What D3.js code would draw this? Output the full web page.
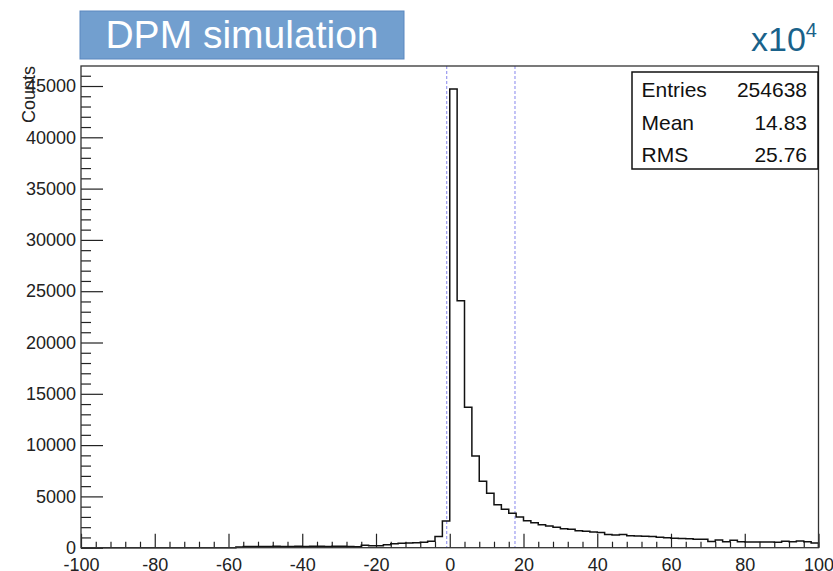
<!DOCTYPE html>
<html>
<head>
<meta charset="utf-8">
<script src="https://cdn.jsdelivr.net/npm/d3@7"></script>
<style>
  html, body { margin: 0; padding: 0; background: #fff; }
  svg { display: block; font-family: "Liberation Sans", Arial, sans-serif; }
</style>
</head>
<body>
<svg id="chart" width="833" height="571"></svg>
<script>
// Histogram binning: 100 bins of width 2 from -100 to 100
const binStart = -100;
const binWidth = 2;
const counts = [
  0, 0, 0, 0, 0, 0, 0, 0, 0, 0,
  0, 0, 0, 0, 0, 0, 0, 0, 0, 0,
  0, 60, 110, 120, 120, 110, 130, 120, 120, 130,
  110, 130, 140, 120, 130, 140, 120, 100, 230, 200,
  200, 290, 380, 430, 450, 490, 520, 620, 1100, 2600,
  44700, 24070, 13680, 8940, 6470, 5300, 4190, 3740, 3350, 2990,
  2630, 2440, 2240, 2110, 1990, 1850, 1790, 1660, 1600, 1530,
  1470, 1290, 1230, 1290, 1170, 1150, 1120, 1080, 1030, 970,
  930, 890, 870, 830, 820, 600, 740, 590, 730, 580,
  560, 560, 550, 550, 540, 640, 580, 660, 590, 470
];

const xMajorTicks = [-100, -80, -60, -40, -20, 0, 20, 40, 60, 80, 100];
const yMajorTicks = [0, 5000, 10000, 15000, 20000, 25000, 30000, 35000, 40000, 45000];
const yMax = 46950;

const markerLines = [-0.83, 17.69];

const statsLabels = ["Entries", "Mean", "RMS"];
const statsValues = ["254638", "14.83", "25.76"];

const titleText = "DPM simulation";
const yTitle = "Counts";

const svg = d3.select("#chart");

const frame = { left: 81, right: 818.5, top: 66, bottom: 547.7 };

const x = d3.scaleLinear().domain([binStart, binStart + binWidth * counts.length]).range([frame.left, frame.right]);
const y = d3.scaleLinear().domain([0, yMax]).range([frame.bottom, frame.top]);

const ink = "#222";

// Minor ticks
const xMinor = d3.range(-100, 100.001, 4).filter(v => v % 20 !== 0);
const yMinor = d3.range(0, 46001, 1000).filter(v => v % 5000 !== 0);

const gxMinor = svg.append("g")
  .attr("transform", `translate(0,${frame.bottom})`)
  .call(d3.axisBottom(x).tickValues(xMinor).tickSizeInner(-6).tickSizeOuter(0).tickFormat(""));
const gyMinor = svg.append("g")
  .attr("transform", `translate(${frame.left},0)`)
  .call(d3.axisLeft(y).tickValues(yMinor).tickSizeInner(-10).tickSizeOuter(0).tickFormat(""));

// Major ticks with labels
const gx = svg.append("g")
  .attr("transform", `translate(0,${frame.bottom})`)
  .call(d3.axisBottom(x).tickValues(xMajorTicks).tickSizeInner(-14).tickSizeOuter(0)
    .tickPadding(11).tickFormat(d => String(d)));
const gy = svg.append("g")
  .attr("transform", `translate(${frame.left},0)`)
  .call(d3.axisLeft(y).tickValues(yMajorTicks).tickSizeInner(-22).tickSizeOuter(0)
    .tickPadding(5).tickFormat(d => String(d)));

[gxMinor, gyMinor, gx, gy].forEach(g => {
  g.select(".domain").remove();
  g.selectAll("line").attr("stroke", ink).attr("stroke-width", 1.2);
  g.selectAll("text").attr("fill", ink).style("font-size", "18px").style("font-family", "'Liberation Sans', Arial, sans-serif");
});

// Marker lines
svg.append("g").selectAll("line").data(markerLines).join("line")
  .attr("x1", d => x(d)).attr("x2", d => x(d))
  .attr("y1", frame.top).attr("y2", frame.bottom)
  .attr("stroke", "#9a9af0").attr("stroke-width", 1.2)
  .attr("stroke-dasharray", "3,2");

// Histogram outline
const pts = [[x(binStart), y(0)]];
counts.forEach((c, i) => {
  const lo = binStart + i * binWidth;
  pts.push([x(lo), y(c)]);
  pts.push([x(lo + binWidth), y(c)]);
});
pts.push([x(binStart + binWidth * counts.length), y(0)]);
svg.append("path")
  .attr("d", d3.line()(pts))
  .attr("fill", "none")
  .attr("stroke", "#111")
  .attr("stroke-width", 1.5);

// Frame
svg.append("rect")
  .attr("x", frame.left).attr("y", frame.top)
  .attr("width", frame.right - frame.left).attr("height", frame.bottom - frame.top)
  .attr("fill", "none").attr("stroke", "#333").attr("stroke-width", 1.3);

// Y title
svg.append("text")
  .attr("transform", `translate(35,${frame.top}) rotate(-90)`)
  .attr("text-anchor", "end")
  .attr("fill", ink)
  .style("font-size", "18px")
  .text(yTitle);

// Stats box
const sb = { x: 632, y: 72, w: 186, h: 97 };
svg.append("rect")
  .attr("x", sb.x).attr("y", sb.y).attr("width", sb.w).attr("height", sb.h)
  .attr("fill", "#fff").attr("stroke", "#111").attr("stroke-width", 1.5);
const rowY = [96.5, 129.5, 161.5];
svg.append("g").selectAll("text").data(statsLabels).join("text")
  .attr("x", 641.5).attr("y", (d, i) => rowY[i])
  .attr("fill", "#111").style("font-size", "21px").text(d => d);
svg.append("g").selectAll("text").data(statsValues).join("text")
  .attr("x", 807).attr("y", (d, i) => rowY[i]).attr("text-anchor", "end")
  .attr("fill", "#111").style("font-size", "21px").text(d => d);

// Title banner
svg.append("rect")
  .attr("x", 80).attr("y", 11).attr("width", 324).attr("height", 48)
  .attr("fill", "#729fcf").attr("stroke", "#5a87bf").attr("stroke-width", 1);
svg.append("text")
  .attr("x", 242).attr("y", 48).attr("text-anchor", "middle")
  .attr("fill", "#fff").style("font-size", "39px")
  .text(titleText);

// Axis multiplier
const mult = svg.append("text")
  .attr("x", 751).attr("y", 51)
  .attr("fill", "#1a628a").style("font-size", "34px");
mult.append("tspan").text("x10");
mult.append("tspan").attr("dy", -14).style("font-size", "20px").text("4");
</script>
</body>
</html>
